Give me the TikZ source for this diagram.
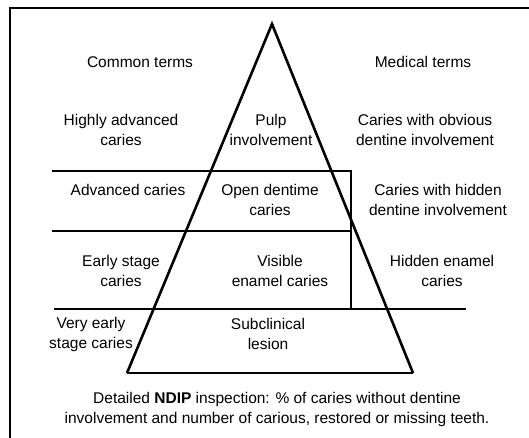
\documentclass[tikz,border=0pt]{standalone}
\usepackage{fontspec}
\setmainfont{Liberation Sans}
\begin{document}
\begin{tikzpicture}[x=1pt,y=-1pt,
  lbl/.style={align=center,inner sep=0pt,font=\fontsize{15.5}{20}\selectfont},
  thick line/.style={line width=2.6pt},
  rule/.style={line width=2pt},
  frame/.style={line width=1.6pt}]
\useasboundingbox (0,0) rectangle (529,438);
% frame
\coordinate (f1) at (10,438);
\coordinate (f2) at (10,8);
\coordinate (f3) at (529,8);
\draw[frame] (f1) -- (f2) -- (f3);
% triangle
\coordinate (apex) at (272,24);
\coordinate (bl) at (127,373);
\coordinate (br) at (413,373);
\draw[thick line,line join=miter] (bl) -- (apex) -- (br);
\draw[thick line] (bl) -- (br);
% horizontal rules
\coordinate (h1l) at (52,171);
\coordinate (h1r) at (351,171);
\coordinate (h2l) at (52,231);
\coordinate (h2r) at (351,231);
\coordinate (h3l) at (54,309);
\coordinate (h3r) at (466,309);
\coordinate (v3) at (351,309);
\draw[rule] (h1l) -- (h1r) -- (v3);
\draw[rule] (h2l) -- (h2r);
\draw[rule] (h3l) -- (h3r);
% texts
\node[lbl] (common) at (140,62) {Common terms};
\node[lbl] (medical) at (423,62) {Medical terms};
\node[lbl] (t1a) at (121,130) {Highly advanced\\caries};
\node[lbl] (t1b) at (271,130) {Pulp\\involvement};
\node[lbl] (t1c) at (425,130) {Caries with obvious\\dentine involvement};
\node[lbl] (t2a) at (128,190) {Advanced caries};
\node[lbl] (t2b) at (270,200) {Open dentime\\caries};
\node[lbl] (t2c) at (438,200) {Caries with hidden\\dentine involvement};
\node[lbl] (t3a) at (121,271) {Early stage\\caries};
\node[lbl] (t3b) at (280,271) {Visible\\enamel caries};
\node[lbl] (t3c) at (442,271) {Hidden enamel\\caries};
\node[lbl] (t4a) at (91,334) {Very early\\stage caries};
\node[lbl] (t4b) at (268,334) {Subclinical\\lesion};
\node[lbl] (cap) at (277,409) {Detailed \textbf{NDIP} inspection: \% of caries without dentine\\involvement and number of carious, restored or missing teeth.};
\end{tikzpicture}
\end{document}
